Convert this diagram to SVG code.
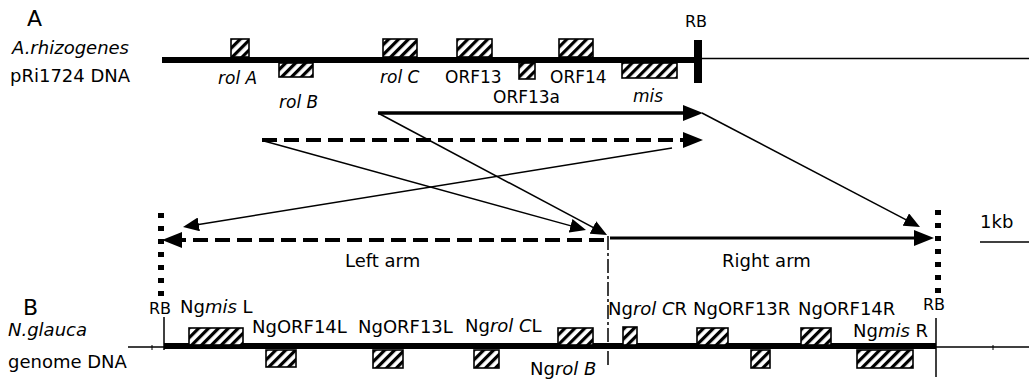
<svg xmlns="http://www.w3.org/2000/svg" width="1029" height="383" viewBox="0 0 1029 383">
<style>
text{font-family:"DejaVu Sans","Liberation Sans",sans-serif;fill:#000}
.lbl{font-size:17px}
.lb2{font-size:18px}
.it{font-style:italic}
.big{font-size:22px}
.gene{fill:url(#hatch);stroke:#000;stroke-width:1.6}
.thin{stroke:#000;stroke-width:1.5;fill:none}
.thickA{stroke:#000;stroke-width:3.5;fill:none}
.dashA{stroke:#000;stroke-width:4;fill:none;stroke-dasharray:15 7}
</style>
<defs>
<pattern id="hatch" patternUnits="userSpaceOnUse" width="7" height="7" patternTransform="rotate(45)">
<rect x="0" y="0" width="7" height="7" fill="#fff"/>
<rect x="0" y="0" width="3.2" height="7" fill="#000"/>
</pattern>
<marker id="ahBig" markerUnits="userSpaceOnUse" markerWidth="20" markerHeight="16" refX="10" refY="8" orient="auto">
<path d="M0,0 L20,8 L0,16 z" fill="#000"/>
</marker>
<marker id="ahThin" markerUnits="userSpaceOnUse" markerWidth="16" markerHeight="14" refX="8" refY="7" orient="auto">
<path d="M0,0 L16,7 L0,14 z" fill="#000"/>
</marker>
</defs>
<rect width="1029" height="383" fill="#fff"/>

<g id="panelA">
<text class="big" x="27" y="26">A</text>
<text class="lb2 it" x="12" y="54">A.rhizogenes</text>
<text class="lb2" x="10" y="82">pRi1724 DNA</text>
<line x1="162" y1="60" x2="698" y2="60" stroke="#000" stroke-width="6"/>
<line x1="698" y1="58.5" x2="1029" y2="58.5" class="thin"/>
</g>
<g id="RB_top">
<rect x="694" y="40" width="8" height="43" fill="#000"/>
<text x="685" y="27" style="font-size:16px">RB</text>
</g>
<g id="rolA"><rect class="gene" x="231" y="39" width="18" height="18"/><text class="lbl it" x="218" y="84">rol A</text></g>
<g id="rolB"><rect class="gene" x="279" y="63" width="34" height="14"/><text class="lbl it" x="279" y="108">rol B</text></g>
<g id="rolC"><rect class="gene" x="383" y="39" width="34" height="18"/><text class="lbl it" x="380" y="83">rol C</text></g>
<g id="ORF13"><rect class="gene" x="457" y="39" width="35" height="18"/><text class="lbl" x="445" y="83">ORF13</text></g>
<g id="ORF13a"><rect class="gene" x="519" y="63" width="16" height="16"/><text class="lbl" x="493" y="103">ORF13a</text></g>
<g id="ORF14"><rect class="gene" x="559" y="39" width="34" height="18"/><text class="lbl" x="550" y="83">ORF14</text></g>
<g id="mis"><rect class="gene" x="622" y="63" width="55" height="15"/><text class="lbl it" x="633" y="102">mis</text></g>

<g id="connectors">
<line class="thickA" x1="378" y1="113" x2="693" y2="113" marker-end="url(#ahBig)"/>
<line class="dashA" x1="262" y1="140" x2="693" y2="140" marker-end="url(#ahBig)"/>
<line class="thin" x1="378" y1="113" x2="600" y2="231.2" marker-end="url(#ahThin)"/>
<line class="thin" x1="264" y1="141" x2="578.3" y2="227.9" marker-end="url(#ahThin)"/>
<line class="thin" x1="672" y1="148" x2="190.9" y2="225.7" marker-end="url(#ahThin)"/>
<line class="thin" x1="702" y1="113" x2="912.9" y2="223.3" marker-end="url(#ahThin)"/>
<line class="dashA" x1="604" y1="240" x2="172" y2="240" marker-end="url(#ahBig)"/>
<line x1="610" y1="238" x2="924" y2="238" stroke="#000" stroke-width="3" marker-end="url(#ahBig)"/>
<line x1="608" y1="236" x2="608" y2="368" stroke="#000" stroke-width="1.5" stroke-dasharray="14 3 3 3"/>
</g>

<g id="arms">
<text class="lb2" x="345" y="267">Left arm</text>
<text class="lb2" x="722" y="267">Right arm</text>
</g>

<g id="borders">
<line x1="161" y1="213" x2="161" y2="300" stroke="#000" stroke-width="6" stroke-dasharray="5 8"/>
<line x1="938" y1="210" x2="938" y2="297" stroke="#000" stroke-width="6" stroke-dasharray="5 8"/>
</g>

<g id="scale">
<text class="lb2" x="980" y="228">1kb</text>
<line x1="980" y1="242" x2="1029" y2="242" class="thin"/>
</g>

<g id="panelB">
<text class="big" x="23" y="315">B</text>
<text class="lb2 it" x="8" y="336">N.glauca</text>
<text class="lb2" x="8" y="368">genome DNA</text>
<line x1="128" y1="347" x2="164" y2="347" class="thin"/>
<line x1="152" y1="345" x2="152" y2="350" stroke="#000" stroke-width="1"/>
<line x1="164" y1="346" x2="936" y2="346" stroke="#000" stroke-width="6"/>
<line x1="936" y1="347" x2="1029" y2="347" class="thin"/>
<line x1="993" y1="345" x2="993" y2="350" stroke="#000" stroke-width="1"/>
</g>
<g id="RB_left"><line x1="164" y1="317" x2="164" y2="350" class="thin"/><text x="149" y="314" style="font-size:16px">RB</text></g>
<g id="RB_right"><line x1="936" y1="318" x2="936" y2="377" class="thin"/><text x="923" y="310" style="font-size:16px">RB</text></g>
<g id="NgmisL"><rect class="gene" x="189" y="328" width="54" height="17"/><text class="lb2" x="180" y="313">Ng<tspan class="it">mis</tspan> L</text></g>
<g id="NgORF14L"><rect class="gene" x="266" y="350" width="30" height="17"/><text class="lb2" x="252" y="333">NgORF14L</text></g>
<g id="NgORF13L"><rect class="gene" x="373" y="350" width="30" height="18"/><text class="lb2" x="358" y="333">NgORF13L</text></g>
<g id="NgrolCL"><rect class="gene" x="474" y="350" width="25" height="18"/><text class="lb2" x="465" y="332">Ng<tspan class="it">rol C</tspan>L</text></g>
<g id="NgrolB"><rect class="gene" x="558" y="328" width="35" height="17"/><text class="lb2" x="530" y="375">Ng<tspan class="it">rol B</tspan></text></g>
<g id="NgrolCR"><rect class="gene" x="623" y="327" width="14" height="18"/><text class="lb2" x="608" y="315">Ng<tspan class="it">rol C</tspan>R</text></g>
<g id="NgORF13R"><rect class="gene" x="697" y="328" width="31" height="17"/><text class="lb2" x="693" y="315">NgORF13R</text></g>
<g id="NgORF13aR"><rect class="gene" x="751" y="350" width="19" height="18"/></g>
<g id="NgORF14R"><rect class="gene" x="801" y="328" width="30" height="17"/><text class="lb2" x="798" y="315">NgORF14R</text></g>
<g id="NgmisR"><rect class="gene" x="857" y="350" width="56" height="18"/><text class="lb2" x="853" y="337">Ng<tspan class="it">mis</tspan> R</text></g>
</svg>
